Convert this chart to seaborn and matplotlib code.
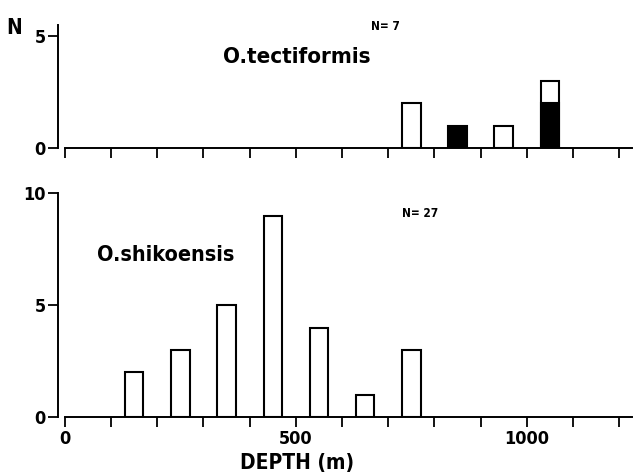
import matplotlib
matplotlib.use("Agg")
import matplotlib.pyplot as plt
import seaborn as sns

# O. tectiformis (top panel)
tect_open_depth = [750, 950, 1050]
tect_open_count = [2, 1, 3]      # total bar height (open part on top)
tect_black_depth = [850, 1050]
tect_black_count = [1, 2]

# O. shikoensis (bottom panel)
shik_depth = [150, 250, 350, 450, 550, 650, 750]
shik_count = [2, 3, 5, 9, 4, 1, 3]

xticks = list(range(0, 1300, 100))
xlabels = ["0" if t == 0 else "500" if t == 500 else "1000" if t == 1000 else "" for t in xticks]

sns.set_style("white")
plt.rcParams["font.family"] = ["DejaVu Sans"]
plt.rcParams["font.stretch"] = "condensed"
plt.rcParams["font.weight"] = "bold"
for k in ["text.color", "axes.labelcolor", "xtick.color", "ytick.color", "axes.edgecolor"]:
    plt.rcParams[k] = "black"

fig = plt.figure(figsize=(6.33, 4.74), dpi=100)
ax1 = fig.add_axes([0.0916, 0.688, 0.907, 0.259])
ax2 = fig.add_axes([0.0916, 0.120, 0.907, 0.4726])

bar_kw = dict(edgecolor="black", linewidth=1.5, errorbar=None, native_scale=True)

sns.barplot(x=tect_open_depth, y=tect_open_count, color="white", width=0.4, ax=ax1, **bar_kw)
sns.barplot(x=tect_black_depth, y=tect_black_count, color="black", width=0.2, ax=ax1, **bar_kw)
sns.barplot(x=shik_depth, y=shik_count, color="white", width=0.4, ax=ax2, **bar_kw)

for ax in (ax1, ax2):
    ax.set_xlim(-15, 1228)
    sns.despine(ax=ax)
    ax.spines["bottom"].set_bounds(0, 1228)
    ax.spines["left"].set_linewidth(1.4)
    ax.spines["bottom"].set_linewidth(1.4)
    ax.set_xticks(xticks)
    ax.tick_params(axis="both", direction="out", length=7, width=1.3,
                   labelsize=13, pad=2, left=True, bottom=True)
    ax.set_xlabel("")
    ax.set_ylabel("")
    for lab in ax.get_yticklabels() + ax.get_xticklabels():
        lab.set_fontweight("bold")

ax1.set_ylim(0, 5.5)
ax1.spines["left"].set_bounds(0, 5.5)
ax1.set_yticks([0, 5])
ax1.set_xticklabels([""] * len(xticks))

ax2.set_ylim(0, 10)
ax2.set_yticks([0, 5, 10])
ax2.set_xticklabels(xlabels)
ax2.set_xlabel("DEPTH (m)", fontsize=15, fontweight="bold")
ax2.xaxis.label.set_verticalalignment("center")
ax2.xaxis.set_label_coords(0.416, -0.205)

ax1.text(502, 4.05, "O.tectiformis", fontsize=16, fontweight="bold", ha="center", va="center")
ax1.text(693, 5.45, "N= 7", fontsize=8.5, fontweight="bold", ha="center", va="center")
ax2.text(218, 7.23, "O.shikoensis", fontsize=15.5, fontweight="bold", ha="center", va="center")
ax2.text(770, 9.1, "N= 27", fontsize=8.5, fontweight="bold", ha="center", va="center")
fig.text(0.022, 0.94, "N", fontsize=15, fontweight="bold", ha="center", va="center")

fig.savefig("out.png", dpi=100)
